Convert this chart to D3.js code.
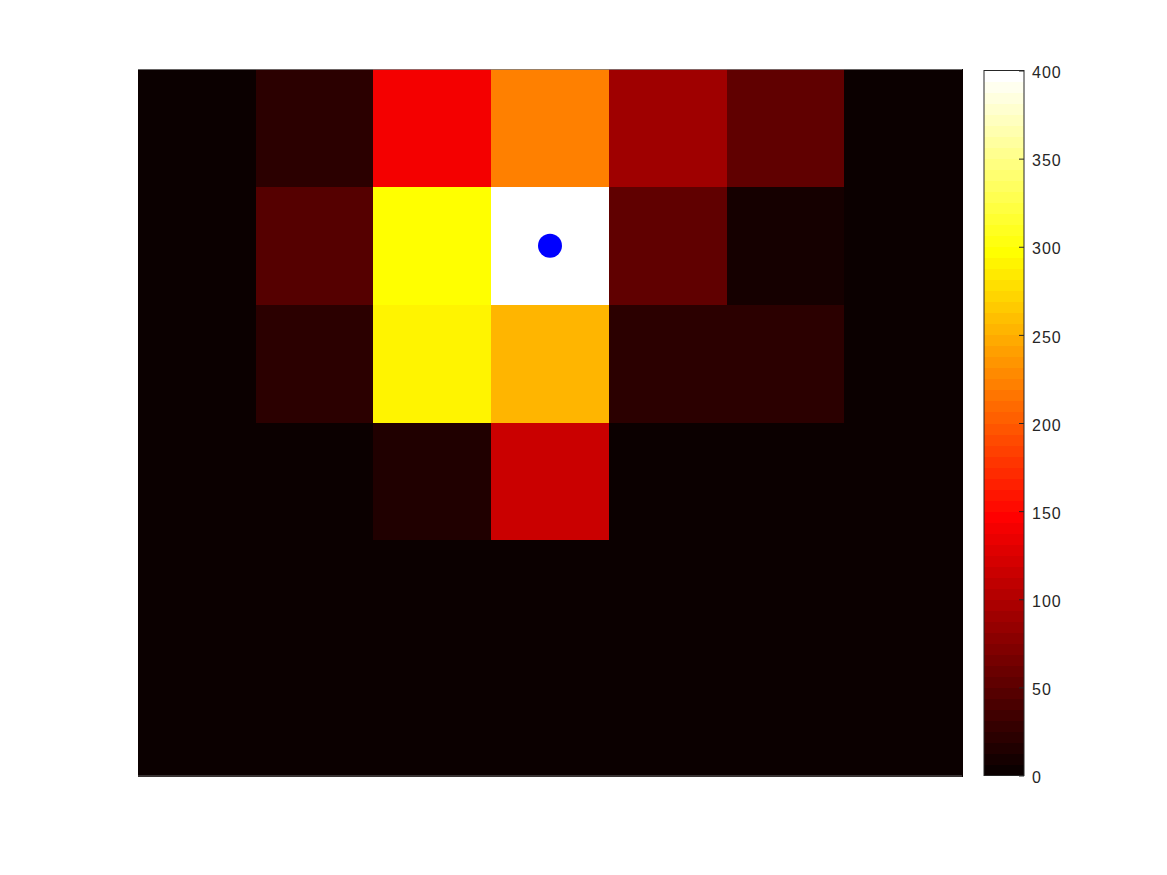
<!DOCTYPE html>
<html>
<head>
<meta charset="utf-8">
<script src="https://cdn.jsdelivr.net/npm/d3@7"></script>
<style>
  html, body { margin: 0; padding: 0; background: #fff; }
  svg { display: block; font-family: "Liberation Sans", Arial, Helvetica, sans-serif; }
</style>
</head>
<body>
<svg id="chart" width="1167" height="875"></svg>
<script>
// ---- data ----
const colLabels = [1, 2, 3, 4, 5, 6, 7];
const rowLabels = [1, 2, 3, 4, 5, 6];
const row1 = [2, 22, 140, 222, 90, 53, 2];
const row2 = [2, 47, 297, 400, 53, 9, 2];
const row3 = [2, 22, 290, 253, 22, 22, 2];
const row4 = [2, 2, 15, 115, 2, 2, 2];
const row5 = [2, 2, 2, 2, 2, 2, 2];
const row6 = [2, 2, 2, 2, 2, 2, 2];
const rowsData = [row1, row2, row3, row4, row5, row6];
const markerCol = [4];
const markerRow = [2];
const colorTicks = [0, 50, 100, 150, 200, 250, 300, 350, 400];
const colorDomain = [0, 400];

// ---- MATLAB "hot" colormap with 64 levels ----
function hotMap(n) {
  const n1 = Math.floor(3 / 8 * n), n2 = n1, n3 = n - n1 - n2;
  const out = [];
  for (let i = 0; i < n; i++) {
    const r = i < n1 ? (i + 1) / n1 : 1;
    const g = i < n1 ? 0 : (i < n1 + n2 ? (i - n1 + 1) / n2 : 1);
    const b = i < n1 + n2 ? 0 : (i - n1 - n2 + 1) / n3;
    out.push(d3.rgb(Math.round(r * 255), Math.round(g * 255), Math.round(b * 255)).formatHex());
  }
  return out;
}
const hot = hotMap(64);

const svg = d3.select("#chart");

const x = d3.scaleBand().domain(colLabels).range([138, 962]).padding(0);
const y = d3.scaleBand().domain(rowLabels).range([69, 776]).padding(0);
const color = d3.scaleQuantize().domain(colorDomain).range(hot);

const cells = [];
rowsData.forEach((row, ri) => row.forEach((v, ci) => cells.push({ r: rowLabels[ri], c: colLabels[ci], v })));

svg.append("g").selectAll("rect").data(cells).join("rect")
  .attr("x", d => x(d.c))
  .attr("y", d => y(d.r))
  .attr("width", x.bandwidth() + 0.5)
  .attr("height", y.bandwidth() + 0.5)
  .attr("fill", d => color(d.v))
  .attr("shape-rendering", "crispEdges");

// faint axes edge lines
svg.append("line").attr("x1", 138).attr("x2", 962).attr("y1", 69.5).attr("y2", 69.5)
  .attr("stroke", "#7f7f7f").attr("stroke-width", 0.8);
svg.append("line").attr("x1", 138).attr("x2", 962).attr("y1", 776).attr("y2", 776)
  .attr("stroke", "#7f7f7f").attr("stroke-width", 0.8);

// marker
svg.append("g").selectAll("circle").data(markerCol.map((c, i) => ({ c, r: markerRow[i] }))).join("circle")
  .attr("cx", d => x(d.c) + x.bandwidth() / 2)
  .attr("cy", d => y(d.r) + y.bandwidth() / 2)
  .attr("r", 12)
  .attr("fill", "#0000ff");

// ---- colorbar ----
const cbX = 984, cbW = 40;
const cy = d3.scaleLinear().domain(colorDomain).range([775.5, 70.5]);
const step = (colorDomain[1] - colorDomain[0]) / hot.length;
const cbG = svg.append("g");
cbG.selectAll("rect").data(hot).join("rect")
  .attr("x", cbX)
  .attr("y", (d, i) => cy(colorDomain[0] + (i + 1) * step))
  .attr("width", cbW)
  .attr("height", (d, i) => cy(colorDomain[0] + i * step) - cy(colorDomain[0] + (i + 1) * step) + 0.5)
  .attr("fill", d => d)
  .attr("shape-rendering", "crispEdges");
cbG.append("rect")
  .attr("x", cbX).attr("y", 70.5).attr("width", cbW).attr("height", 705)
  .attr("fill", "none").attr("stroke", "#262626").attr("stroke-width", 1);

const axis = d3.axisRight(cy).tickValues(colorTicks).tickSizeInner(-5).tickSizeOuter(0).tickPadding(8)
  .tickFormat(d3.format("d"));
const ag = svg.append("g").attr("transform", `translate(${cbX + cbW},0)`).call(axis);
ag.select(".domain").remove();
ag.selectAll(".tick line").attr("stroke", "#262626");
ag.selectAll(".tick text").attr("fill", "#262626").attr("dy", "0.45em")
  .style("font-size", "16px").style("letter-spacing", "1px")
  .style("font-family", '"Liberation Sans", Arial, Helvetica, sans-serif');
</script>
</body>
</html>
